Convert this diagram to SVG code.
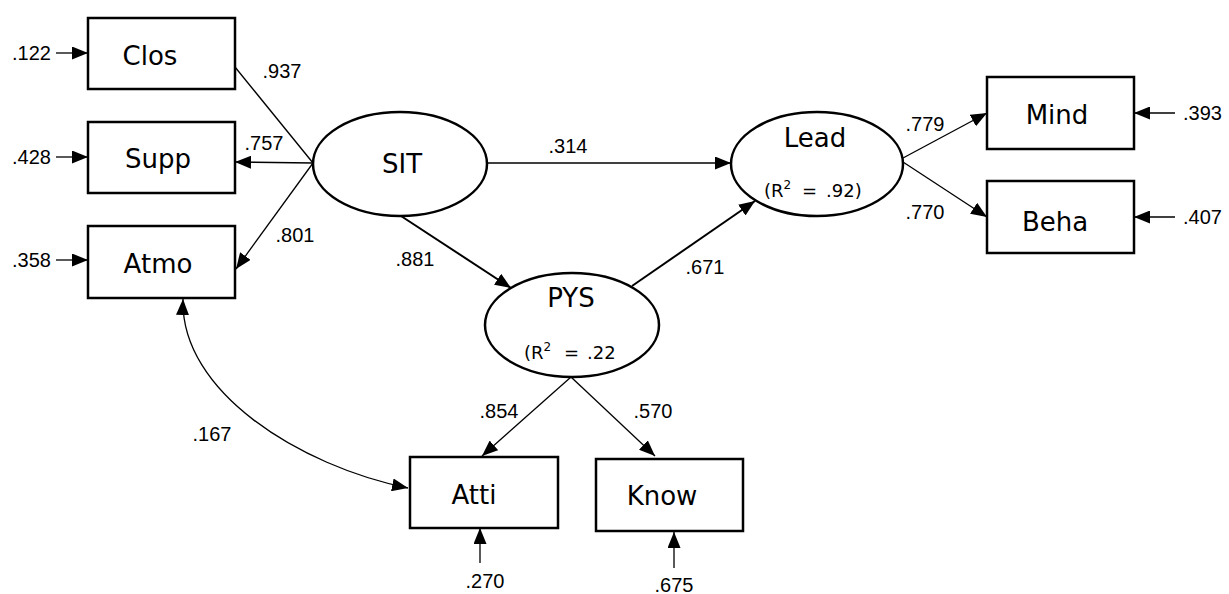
<svg xmlns="http://www.w3.org/2000/svg" width="1229" height="594" viewBox="0 0 1229 594">
<defs>
<marker id="ah" markerUnits="userSpaceOnUse" markerWidth="17" markerHeight="13" refX="16" refY="6.5" orient="auto-start-reverse" viewBox="0 0 17 13">
<path d="M0,0 L16,6.5 L0,13 z" fill="#000"/>
</marker>
<style>
.box{fill:#fff;stroke:#000;stroke-width:2.5}
.ell{fill:#fff;stroke:#000;stroke-width:2.5}
.lbl{font-family:"DejaVu Sans","Liberation Sans",sans-serif;font-size:26px;fill:#000;text-anchor:middle}
.num{font-family:"Liberation Sans",Arial,sans-serif;font-size:20px;fill:#000}
.r2{font-family:"DejaVu Sans","Liberation Sans",sans-serif;font-size:18px;fill:#000}
.c{text-anchor:middle}
.ln{stroke:#000;stroke-width:1.3;fill:none}
.thk{stroke-width:2}
.arr{marker-end:url(#ah)}
</style>
</defs>
<rect width="1229" height="594" fill="#fff"/>

<g id="connectors">
<line class="ln" x1="313" y1="163" x2="235" y2="67"/>
<line class="ln arr" x1="313" y1="163" x2="235" y2="162"/>
<line class="ln arr" x1="313" y1="163" x2="236" y2="269"/>
<line class="ln arr" x1="487" y1="163" x2="731" y2="163"/>
<line class="ln thk arr" x1="401" y1="216" x2="511" y2="288"/>
<line class="ln thk arr" x1="632" y1="286" x2="755" y2="201"/>
<line class="ln arr" x1="903" y1="158" x2="987" y2="113"/>
<line class="ln arr" x1="903" y1="162" x2="987" y2="217"/>
<line class="ln arr" x1="571" y1="377" x2="482" y2="456"/>
<line class="ln arr" x1="571" y1="377" x2="655" y2="456"/>
<line class="ln arr" x1="56" y1="53" x2="88" y2="53"/>
<line class="ln arr" x1="56" y1="157" x2="88" y2="157"/>
<line class="ln arr" x1="56" y1="260" x2="88" y2="260"/>
<line class="ln arr" x1="1175" y1="113" x2="1134" y2="113"/>
<line class="ln arr" x1="1175" y1="217" x2="1134" y2="217"/>
<line class="ln arr" x1="480" y1="563" x2="480" y2="528"/>
<line class="ln arr" x1="674" y1="568" x2="674" y2="532"/>
<path class="ln" d="M183,299 C180,392 300,466 408,488" marker-start="url(#ah)" marker-end="url(#ah)"/>
<text class="num c" x="282" y="78">.937</text>
<text class="num c" x="264" y="150">.757</text>
<text class="num c" x="295" y="242">.801</text>
<text class="num c" x="568" y="153">.314</text>
<text class="num c" x="415" y="266">.881</text>
<text class="num c" x="705" y="274">.671</text>
<text class="num c" x="925" y="131">.779</text>
<text class="num c" x="925" y="219">.770</text>
<text class="num c" x="499" y="418">.854</text>
<text class="num c" x="653" y="418">.570</text>
<text class="num c" x="212" y="441">.167</text>
<text class="num" x="12" y="60">.122</text>
<text class="num" x="12" y="164">.428</text>
<text class="num" x="12" y="267">.358</text>
<text class="num" x="1183" y="120">.393</text>
<text class="num" x="1183" y="224">.407</text>
<text class="num c" x="485" y="588">.270</text>
<text class="num c" x="674" y="592">.675</text>
</g>

<g id="Clos"><rect class="box" x="88" y="18" width="147" height="71"/><text class="lbl" x="150" y="65">Clos</text></g>
<g id="Supp"><rect class="box" x="88" y="122" width="147" height="71"/><text class="lbl" x="158" y="168">Supp</text></g>
<g id="Atmo"><rect class="box" x="88" y="226" width="147" height="72"/><text class="lbl" x="158" y="273">Atmo</text></g>
<g id="SIT"><ellipse class="ell" cx="400" cy="164" rx="87" ry="52"/><text class="lbl" x="402" y="173">SIT</text></g>
<g id="Lead"><ellipse class="ell" cx="817" cy="164" rx="86" ry="52"/><text class="lbl" x="815" y="147">Lead</text>
<text class="r2" x="764" y="197">(R<tspan font-size="12" dy="-8">2</tspan><tspan x="802" dy="8">=</tspan><tspan x="826">.92)</tspan></text></g>
<g id="PYS"><ellipse class="ell" cx="572" cy="325" rx="87" ry="52"/><text class="lbl" x="571" y="307">PYS</text>
<text class="r2" x="524" y="359">(R<tspan font-size="12" dy="-8">2</tspan><tspan x="564" dy="8">=</tspan><tspan x="587">.22</tspan></text></g>
<g id="Mind"><rect class="box" x="987" y="77" width="147" height="72"/><text class="lbl" x="1057" y="124">Mind</text></g>
<g id="Beha"><rect class="box" x="987" y="181" width="147" height="72"/><text class="lbl" x="1055" y="231">Beha</text></g>
<g id="Atti"><rect class="box" x="410" y="457" width="148" height="71"/><text class="lbl" x="474" y="504">Atti</text></g>
<g id="Know"><rect class="box" x="596" y="459" width="147" height="72"/><text class="lbl" x="662" y="505">Know</text></g>
</svg>
